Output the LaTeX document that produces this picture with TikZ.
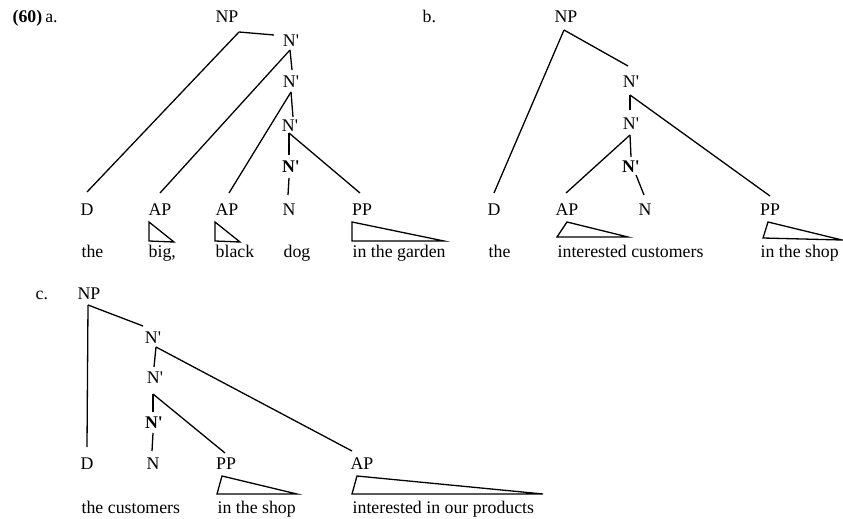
\documentclass[tikz,border=0pt]{standalone}
\usepackage{fontspec}
\setmainfont{Liberation Serif}[Ligatures=TeXOff]
\begin{document}
\begin{tikzpicture}[x=1pt, y=-1pt, line width=1.3pt,
	font=\fontsize{17.8}{21}\selectfont,
	lbl/.style={anchor=base, inner sep=0pt},
	wrd/.style={anchor=base west, inner sep=0pt}]
	\useasboundingbox (0,0) rectangle (843,519);
	% (60) a.
	\node[wrd] (exa) at (12,23) {\textbf{(60)}\,a.};
	\node[lbl] (anp) at (227,23) {NP};
	\node[lbl] (an1) at (291,47) {N'};
	\node[lbl] (an2) at (291,87) {N'};
	\node[lbl] (an3) at (290,131) {N'};
	\node[lbl] (anb) at (291,172) {\textbf{N'}};
	\node[lbl] (ad) at (87,215) {D};
	\node[lbl] (aap1) at (160,215) {AP};
	\node[lbl] (aap2) at (227,215) {AP};
	\node[lbl] (an) at (289,215) {N};
	\node[lbl] (app) at (362,215) {PP};
	\node[wrd] (athe) at (81,257) {the};
	\node[wrd] (abig) at (148,257) {big,};
	\node[wrd] (ablack) at (215,257) {black};
	\node[wrd] (adog) at (283,257) {dog};
	\node[wrd] (agarden) at (352,257) {in the garden};
	% b.
	\node[wrd] (exb) at (422,23) {b.};
	\node[lbl] (bnp) at (566,23) {NP};
	\node[lbl] (bn1) at (631,87) {N'};
	\node[lbl] (bn2) at (631,129) {N'};
	\node[lbl] (bnb) at (631,172) {\textbf{N'}};
	\node[lbl] (bd) at (494,215) {D};
	\node[lbl] (bap) at (567,215) {AP};
	\node[lbl] (bn) at (645,215) {N};
	\node[lbl] (bpp) at (770,215) {PP};
	\node[wrd] (bthe) at (488,257) {the};
	\node[wrd] (bcust) at (557,257) {interested customers};
	\node[wrd] (bshop) at (760,257) {in the shop};
	% c.
	\node[wrd] (exc) at (35,299) {c.};
	\node[lbl] (cnp) at (89,299) {NP};
	\node[lbl] (cn1) at (153,343) {N'};
	\node[lbl] (cn2) at (155,383) {N'};
	\node[lbl] (cnb) at (154,428) {\textbf{N'}};
	\node[lbl] (cd) at (87,469) {D};
	\node[lbl] (cn) at (153,469) {N};
	\node[lbl] (cpp) at (226,469) {PP};
	\node[lbl] (cap) at (362,469) {AP};
	\node[wrd] (ccust) at (81,513) {the customers};
	\node[wrd] (cshop) at (217,513) {in the shop};
	\node[wrd] (cprod) at (352,513) {interested in our products};
	\foreach \p/\px/\py/\c/\cx/\cy in {anp/12/9/an1/-17/-12, anp/12/9/ad/0/-23,
		an1/-1/3/aap1/0/-22, an1/-1/3/an2/1/-17, an2/0/5/aap2/2/-22, an2/0/5/an3/3/-14,
		an3/-1/2/anb/-2/-17, an3/-1/2/app/-2/-22, anb/-2/6/an/-1/-20,
		bnp/-2/7/bd/0/-22, bnp/-2/7/bn1/-3/-21, bn1/-1/8/bn2/-1/-19, bn1/-1/8/bpp/0/-19,
		bn2/-1/6/bap/-1/-22, bn2/-1/6/bnb/0/-15, bnb/5/3/bn/-1/-20,
		cnp/-1/6/cd/0/-22, cnp/-1/6/cn1/-10/-17, cn1/3/4/cn2/-1/-16, cn1/3/4/cap/-10/-18,
		cn2/-2/11/cnb/-1/-16, cn2/-2/11/cpp/-1/-16, cnb/-1/5/cn/-1/-18}
		\draw ([shift={(\px,\py)}]\p.base) -- ([shift={(\cx,\cy)}]\c.base);
	\foreach \n/\ax/\ay/\lx/\ly/\rx/\ry in {aap1/-11/7/-11/26/14/27, aap2/-12/7/-12/26/13/27,
		app/-10/7/-10/26/82/26, bap/0/7/-10/22/61/22, bpp/-2/7/-7/23/72/25,
		cpp/-4/7/-9/25/71/25, cap/-5/7/-10/25/181/25}
		\draw ([shift={(\ax,\ay)}]\n.base) -- ([shift={(\lx,\ly)}]\n.base) -- ([shift={(\rx,\ry)}]\n.base) -- cycle;
\end{tikzpicture}
\end{document}
